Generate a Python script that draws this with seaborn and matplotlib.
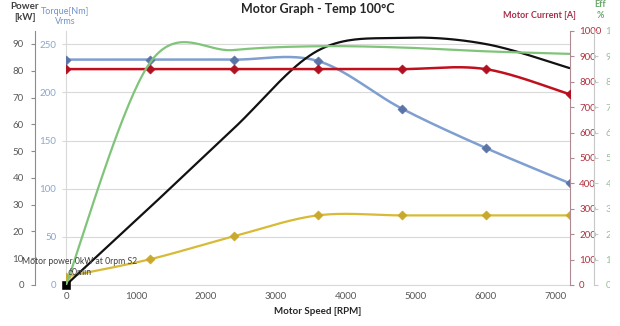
import numpy as np
import pandas as pd
import matplotlib
matplotlib.use("Agg")
import matplotlib.pyplot as plt
import seaborn as sns
from matplotlib.patches import Rectangle

# ---- data ----
rpm = [0, 1200, 2400, 3600, 4800, 6000, 7200]
torque_nm = [234.1, 234.1, 234.1, 232.7, 183.3, 142.4, 105.8]
vrms = [8.6, 26.7, 50.6, 72.3, 72.3, 72.3, 72.3]
power_kw = [0, 29, 58.5, 87.5, 92.3, 90, 81]
current_a = [850, 850, 850, 850, 850, 850, 751]
eff_pct = [0, 87.5, 92.5, 94, 93.5, 92, 91]

x_ticks = [0, 1000, 2000, 3000, 4000, 5000, 6000, 7000]
power_ticks = list(range(0, 100, 10))
torque_ticks = list(range(0, 300, 50))
current_ticks = list(range(0, 1100, 100))
eff_ticks = list(range(0, 110, 10))

sns.set_style("white")
plt.rcParams['font.family'] = ['Lato', 'DejaVu Sans']


def smooth(xs, ys, n=40):
    """Excel-style smoothed line (Bezier through the points)."""
    x = np.asarray(xs, float)
    y = np.asarray(ys, float)
    px = np.concatenate([[x[0]], x, [x[-1]]])
    py = np.concatenate([[y[0]], y, [y[-1]]])
    t = np.linspace(0, 1, n)
    ox, oy = [], []
    for i in range(len(x) - 1):
        x0, x1, x2, x3 = px[i:i + 4]
        y0, y1, y2, y3 = py[i:i + 4]
        cx1, cy1 = x1 + (x2 - x0) / 6, y1 + (y2 - y0) / 6
        cx2, cy2 = x2 - (x3 - x1) / 6, y2 - (y3 - y1) / 6
        bx = (1 - t) ** 3 * x1 + 3 * (1 - t) ** 2 * t * cx1 + 3 * (1 - t) * t ** 2 * cx2 + t ** 3 * x2
        by = (1 - t) ** 3 * y1 + 3 * (1 - t) ** 2 * t * cy1 + 3 * (1 - t) * t ** 2 * cy2 + t ** 3 * y2
        ox.append(bx if i == 0 else bx[1:])
        oy.append(by if i == 0 else by[1:])
    return pd.DataFrame({"x": np.concatenate(ox), "y": np.concatenate(oy)})


W, H = 620, 326
fig = plt.figure(figsize=(W / 100, H / 100), dpi=100)
fig.patch.set_facecolor("white")
ax = fig.add_axes([66 / W, 41 / H, 503.5 / W, 254 / H])  # torque / Vrms axis
ax_p = ax.twinx()   # power
ax_c = ax.twinx()   # current
ax_e = ax.twinx()   # efficiency

grid_c = "#d9d9d9"
tick_c = "#595959"

# ---- series ----
blue, blue_m = "#7f9fd0", "#5a74a8"
red, red_m = "#c0101e", "#b01020"
green = "#80c47a"
yellow, yellow_m = "#d8ba36", "#c9a82e"

d = smooth(rpm, eff_pct)
sns.lineplot(data=d, x="x", y="y", ax=ax_e, color=green, lw=1.6, sort=False, estimator=None)

d = smooth(rpm, torque_nm)
sns.lineplot(data=d, x="x", y="y", ax=ax, color=blue, lw=1.8, sort=False, estimator=None)
sns.scatterplot(x=rpm, y=torque_nm, ax=ax, color=blue_m, marker="D", s=22, edgecolor=blue_m, zorder=5)

d = smooth(rpm, vrms)
sns.lineplot(data=d, x="x", y="y", ax=ax, color=yellow, lw=1.6, sort=False, estimator=None)
sns.scatterplot(x=rpm, y=vrms, ax=ax, color=yellow_m, marker="D", s=22, edgecolor=yellow_m, zorder=5)

d = smooth(rpm, current_a)
sns.lineplot(data=d, x="x", y="y", ax=ax_c, color=red, lw=1.8, sort=False, estimator=None)
sns.scatterplot(x=rpm, y=current_a, ax=ax_c, color=red_m, marker="D", s=22, edgecolor=red_m, zorder=5)

d = smooth(rpm, power_kw)
sns.lineplot(data=d, x="x", y="y", ax=ax_p, color="#111111", lw=1.6, sort=False, estimator=None)
sns.scatterplot(x=rpm[:1], y=power_kw[:1], ax=ax_p, color="black", marker="s", s=28, edgecolor="black",
                zorder=6, clip_on=False)

# ---- base (torque) axis ----
ax.set_xlim(0, 7200)
ax.set_ylim(0, 263.8)
ax.set_xticks(x_ticks)
ax.set_yticks(torque_ticks)
ax.yaxis.grid(True, color=grid_c, lw=0.8)
ax.set_axisbelow(True)
for s in ["top", "right"]:
    ax.spines[s].set_visible(False)
ax.spines["left"].set_color(grid_c)
ax.spines["bottom"].set_color(grid_c)
ax.tick_params(axis="x", colors=grid_c, labelcolor=tick_c, labelsize=7, direction="in", length=3, pad=5)
ax.tick_params(axis="y", colors=grid_c, labelcolor="#8aa6cc", labelsize=7, direction="out", length=3, pad=4)

# ---- power axis (far left) ----
ax_p.set_ylim(0, 94.85)
ax_p.set_yticks(power_ticks)
for s in ["top", "right", "bottom"]:
    ax_p.spines[s].set_visible(False)
ax_p.spines["left"].set_visible(True)
ax_p.spines["left"].set_position(("axes", (35 - 66) / 503.5))
ax_p.spines["left"].set_color("#8c8c8c")
ax_p.yaxis.set_ticks_position("left")
ax_p.yaxis.set_label_position("left")
ax_p.tick_params(axis="y", colors="#8c8c8c", labelcolor=tick_c, labelsize=7, direction="out", length=3, pad=5)

# ---- current axis (right) ----
ax_c.set_ylim(0, 1000)
ax_c.set_yticks(current_ticks)
for s in ["top", "left", "bottom"]:
    ax_c.spines[s].set_visible(False)
ax_c.spines["right"].set_color("#b08a92")
ax_c.tick_params(axis="y", colors="#b08a92", labelcolor="#b0303f", labelsize=7, direction="out", length=3, pad=4)

# ---- efficiency axis (far right) ----
ax_e.set_ylim(0, 100)
ax_e.set_yticks(eff_ticks)
for s in ["top", "left", "bottom"]:
    ax_e.spines[s].set_visible(False)
ax_e.spines["right"].set_position(("axes", (594.3 - 66) / 503.5))
ax_e.spines["right"].set_color("#c8c8c8")
ax_e.tick_params(axis="y", colors="#c8c8c8", labelcolor="#9dbb9d", labelsize=7, direction="out", length=3, pad=5)

for a in (ax, ax_p, ax_c, ax_e):
    a.set_xlim(0, 7200)
    a.set_xlabel("")
    a.set_ylabel("")
ax.set_xlabel("Motor Speed [RPM]", fontsize=7, fontweight="bold", color="#262626", labelpad=4)

# ---- text ----
fig.text(318 / W, 1 - 9 / H, "Motor Graph - Temp 100°C", ha="center", va="center",
         fontsize=9, fontweight="bold", color="#262626")
fig.text(25 / W, 1 - 12 / H, "Power\n[kW]", ha="center", va="center", fontsize=7,
         fontweight="bold", color="#404040", linespacing=1.15)
fig.text(65 / W, 1 - 16.5 / H, "Torque[Nm]\nVrms", ha="center", va="center", fontsize=6.5,
         color="#6f93c8", linespacing=1.25)
fig.text(539 / W, 1 - 15 / H, "Motor Current [A]", ha="center", va="center", fontsize=6.5,
         fontweight="bold", color="#a8304a")
fig.text(600 / W, 1 - 10 / H, "Eff\n%", ha="center", va="center", fontsize=6.5,
         fontweight="bold", color="#6aa86a", linespacing=1.2)
fig.text(80 / W, 1 - 267 / H, "Motor power 0kW at 0rpm S2\n60min", ha="center", va="center",
         fontsize=6.2, color="#404040", linespacing=1.3)

# cut-off right edge as in the screenshot
fig.patches.append(Rectangle((610 / W, 20 / H), 1, 1, transform=fig.transFigure,
                             facecolor="white", edgecolor="none", zorder=10))

fig.savefig("out.png", dpi=100)
